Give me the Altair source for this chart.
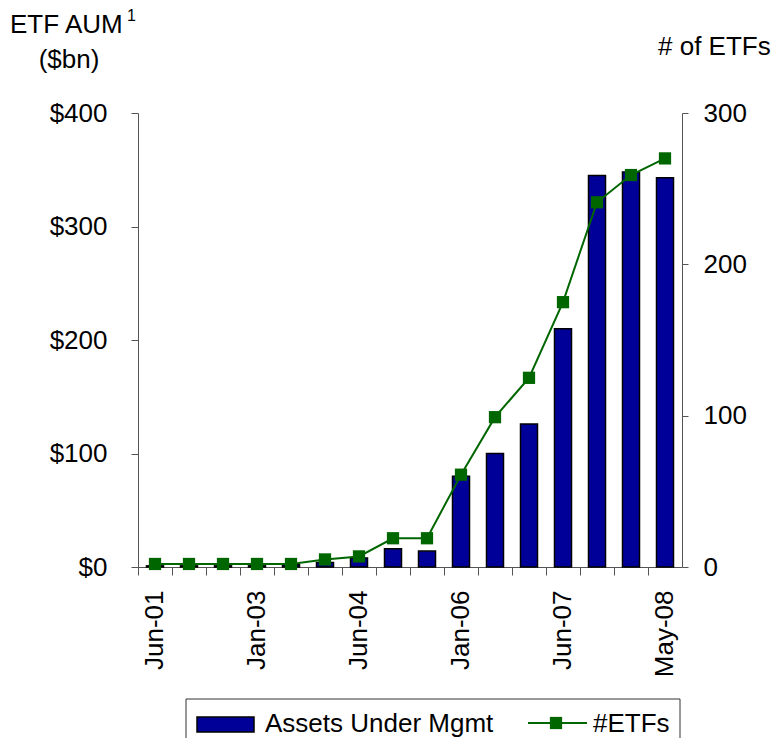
import altair as alt
import pandas as pd

categories = ["Jun-01", "Dec-01", "Jun-02", "Jan-03", "Jun-03", "Dec-03", "Jun-04", "Dec-04",
              "Jun-05", "Jan-06", "Jun-06", "Dec-06", "Jun-07", "Dec-07", "Mar-08", "May-08"]
shown_labels = ["Jun-01", "Jan-03", "Jun-04", "Jan-06", "Jun-07", "May-08"]
aum = [1, 1, 1, 1, 2, 4, 8, 16, 14, 80, 100, 126, 210, 345, 348, 343]
etfs = [2, 2, 2, 2, 2, 5, 7, 19, 19, 61, 99, 125, 175, 241, 259, 270]

df = pd.DataFrame({"cat": categories, "aum": aum, "etfs": etfs})

FONT = "Liberation Sans"
FS = 26
AXC = "#555555"
BLUE = "#000099"
GREEN = "#006600"

label_expr = "indexof(" + str(shown_labels) + ", datum.label) >= 0 ? datum.label : ''"

xscale = alt.Scale(domain=categories, paddingInner=0, paddingOuter=0)

bars = alt.Chart(df).mark_bar(
    width=alt.RelativeBandSize(0.5), color=BLUE, stroke="black", strokeWidth=1.5
).encode(
    x=alt.X("cat:N", scale=xscale, sort=categories,
            axis=alt.Axis(orient="bottom", labelAngle=-90, ticks=False, domain=False,
                          labelPadding=23, labelFontSize=FS, labelFont=FONT,
                          labelColor="black", labelExpr=label_expr, title=None,
                          labelOverlap=False)),
    y=alt.Y("aum:Q", scale=alt.Scale(domain=[0, 400]),
            axis=alt.Axis(orient="left", values=[0, 100, 200, 300, 400],
                          labelExpr="'$' + datum.value", grid=False, tickSize=7,
                          labelPadding=24, labelFontSize=FS, labelFont=FONT,
                          labelColor="black", domainColor=AXC, tickColor=AXC,
                          title=None)),
)

tick_layer = alt.Chart(df).mark_point(opacity=0).encode(
    x=alt.X("cat:N", scale=xscale, sort=categories,
            axis=alt.Axis(orient="bottom", bandPosition=0, labels=False, tickSize=8,
                          domainColor=AXC, tickColor=AXC, title=None, grid=False)),
)

line = alt.Chart(df).mark_line(
    color=GREEN, strokeWidth=2,
    point=alt.OverlayMarkDef(shape="square", size=150, filled=True, color=GREEN, opacity=1),
).encode(
    x=alt.X("cat:N", scale=xscale, sort=categories, axis=None),
    y=alt.Y("etfs:Q", scale=alt.Scale(domain=[0, 300]),
            axis=alt.Axis(orient="right", values=[0, 100, 200, 300], grid=False,
                          tickSize=6, labelPadding=15, labelFontSize=FS, labelFont=FONT,
                          labelColor="black", domainColor=AXC, tickColor=AXC,
                          title=None)),
)

one = alt.Data(values=[{}])


def txt(x, y, s, align="left", size=FS):
    return alt.Chart(one).mark_text(
        align=align, baseline="alphabetic", font=FONT, fontSize=size, color="black"
    ).encode(x=alt.value(x), y=alt.value(y), text=alt.value(s))


title_left = txt(-128, -80, "ETF AUM")
title_sup = txt(-11, -92, "1", size=16)
title_left2 = txt(-69, -45, "($bn)", align="center")
title_right = txt(520, -58, "# of ETFs")

legend_box = alt.Chart(one).mark_rect(fill="white", stroke="#333333", strokeWidth=1).encode(
    x=alt.value(48), x2=alt.value(542), y=alt.value(586), y2=alt.value(700)
)
swatch = alt.Chart(one).mark_rect(fill=BLUE, stroke="black", strokeWidth=1.5).encode(
    x=alt.value(59), x2=alt.value(116), y=alt.value(604), y2=alt.value(619)
)
leg_line = alt.Chart(one).mark_rule(color=GREEN, strokeWidth=2).encode(
    x=alt.value(390), x2=alt.value(449), y=alt.value(610)
)
leg_pt = alt.Chart(one).mark_point(shape="square", size=150, filled=True, color=GREEN, opacity=1).encode(
    x=alt.value(418), y=alt.value(610)
)
leg_t1 = txt(127, 619, "Assets Under Mgmt")
leg_t2 = txt(455, 619, "#ETFs")

chart = alt.layer(
    bars, tick_layer, line,
    title_left, title_sup, title_left2, title_right,
    legend_box, swatch, leg_line, leg_pt, leg_t1, leg_t2,
).resolve_scale(y="independent").resolve_axis(x="independent").properties(
    width=544, height=454,
    padding={"left": 130, "top": 105, "right": 90, "bottom": 171},
    autosize=alt.AutoSizeParams(type="none"),
).configure_view(stroke=None).configure_axis(domainWidth=1, tickWidth=1)

chart.save("out.html", embed_options={"renderer": "svg", "actions": False})
